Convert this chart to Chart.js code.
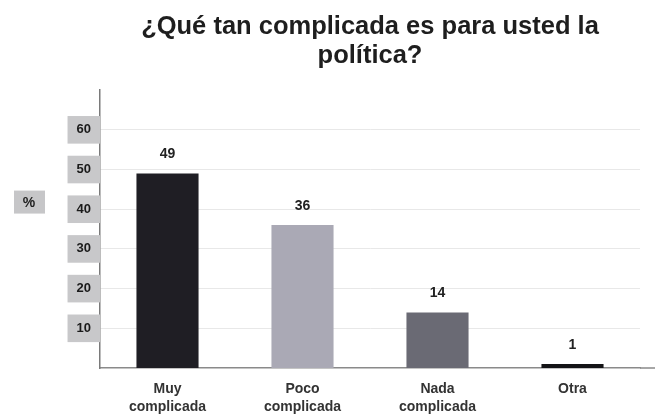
<!DOCTYPE html>
<html>
<head>
<meta charset="utf-8">
<script src="https://cdn.jsdelivr.net/npm/chart.js@4.4.0/dist/chart.umd.min.js"></script>
<style>
html,body{margin:0;padding:0;background:#fff;}
#wrap{width:658px;height:419px;position:relative;}
</style>
</head>
<body>
<div id="wrap"><canvas id="c" width="658" height="419"></canvas></div>
<script>
const titleLines = ["¿Qué tan complicada es para usted la", "política?"];
const categories = [["Muy", "complicada"], ["Poco", "complicada"], ["Nada", "complicada"], ["Otra"]];
const values = [49, 36, 14, 1];
const barColors = ["#1f1e24", "#aaa9b5", "#6a6a74", "#141416"];
const yTickLabels = [10, 20, 30, 40, 50, 60];
const yMax = 70;
const yTitle = "%";

const FONT = "'Liberation Sans', Arial, sans-serif";

const valueLabels = {
  id: 'valueLabels',
  afterDatasetsDraw(chart) {
    const ctx = chart.ctx;
    const meta = chart.getDatasetMeta(0);
    ctx.save();
    ctx.font = "bold 14px " + FONT;
    ctx.fillStyle = "#222";
    ctx.textAlign = "center";
    ctx.textBaseline = "middle";
    meta.data.forEach((bar, i) => {
      ctx.fillText(String(values[i]), bar.x, bar.y - 19);
    });
    ctx.restore();
  }
};

const axisExtras = {
  id: 'axisExtras',
  afterDraw(chart) {
    const ctx = chart.ctx;
    const area = chart.chartArea;
    // extend baseline a little past the plot area, as in the original
    ctx.save();
    ctx.strokeStyle = "#8a8a8a";
    ctx.lineWidth = 1.5;
    ctx.beginPath();
    ctx.moveTo(area.right, area.bottom);
    ctx.lineTo(area.right + 15, area.bottom);
    ctx.stroke();
    // "%" axis title box
    const y = chart.scales.y.getPixelForValue(41.8);
    const x = area.left - 71;
    ctx.fillStyle = "#c6c6c8";
    ctx.fillRect(x - 15, y - 11.5, 31, 23);
    ctx.font = "bold 14px " + FONT;
    ctx.fillStyle = "#222";
    ctx.textAlign = "center";
    ctx.textBaseline = "middle";
    ctx.fillText(yTitle, x, y + 1);
    ctx.restore();
  }
};

new Chart(document.getElementById('c'), {
  type: 'bar',
  data: {
    labels: categories,
    datasets: [{
      data: values,
      backgroundColor: barColors,
      borderWidth: 0,
      barPercentage: 0.46,
      categoryPercentage: 1.0
    }]
  },
  options: {
    responsive: false,
    animation: false,
    layout: { padding: { left: 0, right: 18, top: 8, bottom: 3 } },
    plugins: {
      legend: { display: false },
      tooltip: { enabled: false },
      title: {
        display: true,
        text: titleLines,
        fullSize: false,
        color: "#1e1e1e",
        font: { family: FONT, size: 25.5, weight: 'bold', lineHeight: 1.14 },
        padding: { top: 4, bottom: 20 }
      }
    },
    scales: {
      x: {
        afterFit(scale) { scale.height = 48; },
        grid: { display: false, drawTicks: false },
        border: { display: true, color: "#8a8a8a", width: 1.5 },
        ticks: {
          color: "#333",
          padding: 12,
          font: { family: FONT, size: 14, weight: 'bold', lineHeight: 1.3 },
          maxRotation: 0, autoSkip: false
        }
      },
      y: {
        min: 0, max: yMax,
        afterFit(scale) { scale.width = 100; },
        afterBuildTicks(scale) {
          scale.ticks = yTickLabels.concat([yMax]).map(v => ({ value: v }));
        },
        grid: {
          drawTicks: false,
          color: (c) => (c.tick && c.tick.value === yMax) ? 'rgba(0,0,0,0)' : '#e8e8e8',
          lineWidth: 1
        },
        border: { display: true, color: "#7a7a7a", width: 1.5 },
        ticks: {
          padding: 9,
          color: "#1a1a1a",
          font: { family: FONT, size: 13, weight: 'bold' },
          showLabelBackdrop: true,
          backdropColor: (c) => (yTickLabels.includes(c.tick.value)) ? "#c8c8ca" : 'rgba(0,0,0,0)',
          backdropPadding: { x: 9, y: 6 },
          callback: (v) => yTickLabels.includes(v) ? String(v) : ''
        }
      }
    }
  },
  plugins: [valueLabels, axisExtras]
});
</script>
</body>
</html>
